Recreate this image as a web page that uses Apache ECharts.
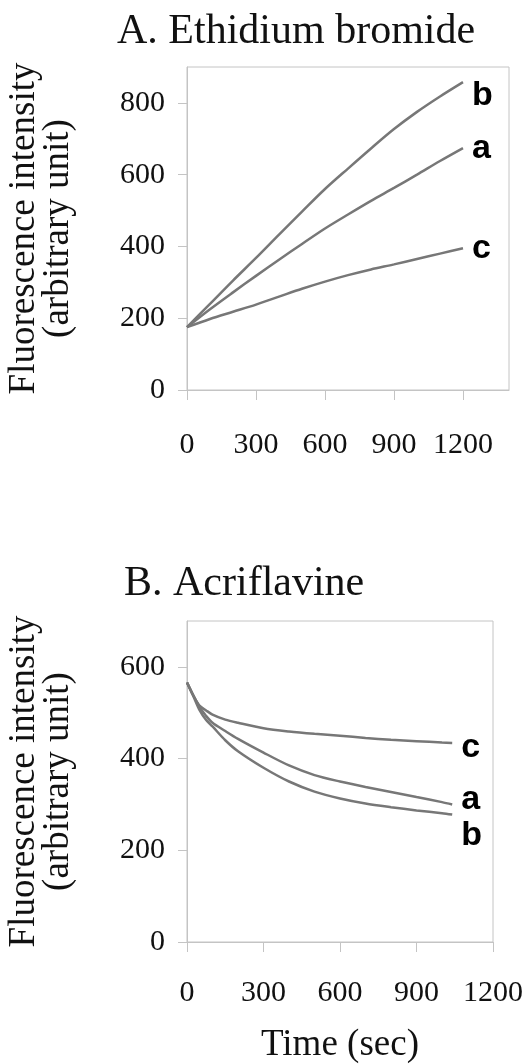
<!DOCTYPE html>
<html>
<head>
<meta charset="utf-8">
<script src="https://cdn.jsdelivr.net/npm/echarts@6/dist/echarts.min.js"></script>
<style>
  html, body { margin: 0; padding: 0; background: #fff; }
  #myChart { width: 525px; height: 1064px; }
</style>
</head>
<body>
<div id="myChart"></div>
<script>
// A. Ethidium bromide, time in sec
var timeA = [0, 100, 200, 300, 400, 500, 600, 700, 800, 900, 1000, 1100, 1200];
var etbrA = [175, 225, 272, 318, 363, 407, 450, 489, 527, 563, 600, 638, 674];
var etbrB = [175, 240, 305, 368, 433, 497, 560, 617, 673, 727, 775, 818, 858];
var etbrC = [175, 198, 218, 238, 260, 282, 302, 320, 336, 350, 365, 380, 395];

// B. Acriflavine
var timeB = [0, 25, 50, 75, 100, 150, 200, 300, 400, 500, 600, 700, 800, 900, 1000, 1040];
var acrA = [566, 538, 512, 493, 478, 460, 443, 413, 385, 364, 350, 338, 327, 316, 305, 300];
var acrB = [566, 536, 505, 484, 470, 440, 416, 380, 350, 328, 313, 302, 294, 287, 281, 278];
var acrC = [566, 537, 515, 505, 496, 485, 478, 466, 459, 454, 450, 445, 441, 438, 435, 434];

var xTicksA = [0, 300, 600, 900, 1200];
var yTicksA = [0, 200, 400, 600, 800];
var xTicksB = [0, 300, 600, 900, 1200];
var yTicksB = [0, 200, 400, 600];

var myChart = echarts.init(document.getElementById('myChart'));

var serif = 'Liberation Serif';
var axisGrey = '#c4c4c4';

function pairs(t, v) {
    return t.map(function (x, i) { return [x, v[i]]; });
}

function plain(v) { return String(v); }

function xAxis(idx, max, ticks, margin, name) {
    return {
        type: 'value', gridIndex: idx, min: 0, max: max,
        name: name || '', nameLocation: 'middle', nameGap: 85,
        nameTextStyle: { fontFamily: serif, fontSize: 37, color: '#111' },
        axisLine: { lineStyle: { color: axisGrey } },
        axisTick: { show: true, length: 10, customValues: ticks, lineStyle: { color: axisGrey } },
        axisLabel: { customValues: ticks, formatter: plain, margin: margin, fontFamily: serif, fontSize: 30, color: '#111' },
        splitLine: { show: false }
    };
}

function yAxis(idx, max, ticks) {
    return {
        type: 'value', gridIndex: idx, min: 0, max: max,
        name: 'Fluorescence intensity\n(arbitrary unit)',
        nameLocation: 'middle', nameRotate: 90, nameGap: 112,
        nameTextStyle: { fontFamily: serif, fontSize: 37, lineHeight: 34, color: '#111' },
        axisLine: { show: true, lineStyle: { color: axisGrey } },
        axisTick: { show: true, length: 9, customValues: ticks, lineStyle: { color: axisGrey } },
        axisLabel: { customValues: ticks, formatter: plain, margin: 22, fontFamily: serif, fontSize: 30, color: '#111' },
        splitLine: { show: false }
    };
}

function curve(name, xi, t, v, dy) {
    return {
        name: name, type: 'line', xAxisIndex: xi, yAxisIndex: xi,
        data: pairs(t, v), showSymbol: false, smooth: 0.3,
        lineStyle: { color: '#777', width: 2.5 },
        endLabel: {
            show: true, formatter: name, distance: 9, offset: [0, dy],
            fontFamily: 'Liberation Sans', fontWeight: 'bold', fontSize: 34, color: '#000'
        },
        animation: false
    };
}

var option = {
    backgroundColor: '#fff',
    title: [
        { text: 'A. Ethidium bromide', left: 112, top: 6,
          textStyle: { fontFamily: serif, fontWeight: 'normal', fontSize: 42, color: '#111' } },
        { text: 'B. Acriflavine', left: 119, top: 558,
          textStyle: { fontFamily: serif, fontWeight: 'normal', fontSize: 42, color: '#111' } }
    ],
    grid: [
        { left: 187, right: 16, top: 67, height: 323, show: true, borderColor: axisGrey, borderWidth: 1, outerBoundsMode: 'none' },
        { left: 187, right: 32, top: 621, height: 321, show: true, borderColor: axisGrey, borderWidth: 1, outerBoundsMode: 'none' }
    ],
    xAxis: [xAxis(0, 1400, xTicksA, 40), xAxis(1, 1200, xTicksB, 36, 'Time (sec)')],
    yAxis: [yAxis(0, 900, yTicksA), yAxis(1, 700, yTicksB)],
    series: [
        curve('a', 0, timeA, etbrA, 1),
        curve('b', 0, timeA, etbrB, 14),
        curve('c', 0, timeA, etbrC, 0),
        curve('a', 1, timeB, acrA, -5),
        curve('b', 1, timeB, acrB, 21),
        curve('c', 1, timeB, acrC, 5)
    ]
};

myChart.setOption(option);
</script>
</body>
</html>
